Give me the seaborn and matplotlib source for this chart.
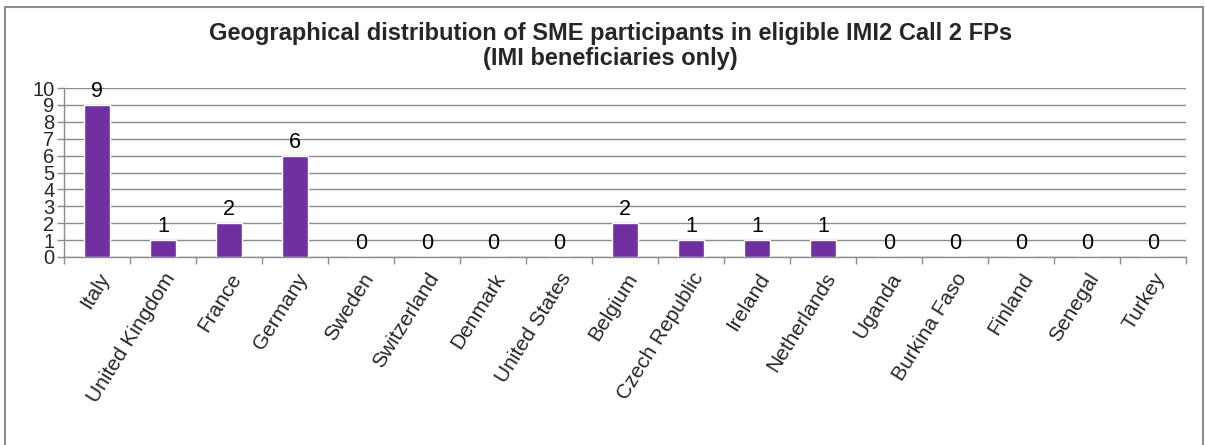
import numpy as np
import pandas as pd
import matplotlib
matplotlib.use("Agg")
import matplotlib.pyplot as plt
import seaborn as sns

countries = ["Italy", "United Kingdom", "France", "Germany", "Sweden", "Switzerland",
             "Denmark", "United States", "Belgium", "Czech Republic", "Ireland",
             "Netherlands", "Uganda", "Burkina Faso", "Finland", "Senegal", "Turkey"]
participants = [9, 1, 2, 6, 0, 0, 0, 0, 2, 1, 1, 1, 0, 0, 0, 0, 0]

title = "Geographical distribution of SME participants in eligible IMI2 Call 2 FPs\n(IMI beneficiaries only)"

sns.set_theme(style="white")
plt.rcParams['font.family'] = ['Liberation Sans', 'DejaVu Sans']

df = pd.DataFrame({"country": countries, "n": participants})

W, H = 1206, 445
fig = plt.figure(figsize=(W / 100, H / 100), dpi=100)
ax = fig.add_axes([64 / W, 1 - 257 / H, (1186 - 64) / W, (257 - 88) / H])

sns.barplot(data=df, x="country", y="n", color="#7030A0", width=0.38,
            saturation=1, ax=ax, zorder=3)

ax.set_ylim(0, 10)
ax.set_xlim(-0.5, len(countries) - 0.5)
ax.set_yticks(range(0, 11))
ax.set_yticklabels([str(i) for i in range(0, 11)], fontsize=14.5)
ax.yaxis.grid(True, color="#8c8c8c", linewidth=1, zorder=0)
ax.set_xlabel("")
ax.set_ylabel("")

# category-boundary ticks on the x axis
ax.set_xticks(np.arange(-0.5, len(countries)), minor=True)
ax.set_xticks(range(len(countries)))
ax.set_xticklabels(countries, rotation=58, ha="right", rotation_mode="anchor", fontsize=15)
ax.tick_params(axis="x", which="major", length=0, pad=9)
ax.tick_params(axis="x", which="minor", length=5, color="#8c8c8c", bottom=True, width=1)
ax.tick_params(axis="y", length=5, color="#8c8c8c", left=True, width=1, pad=2)

for s in ["top", "right"]:
    ax.spines[s].set_visible(False)
for s in ["left", "bottom"]:
    ax.spines[s].set_color("#8c8c8c")
    ax.spines[s].set_linewidth(1)

for i, v in enumerate(participants):
    ax.annotate(str(v), (i, v), xytext=(0, 2), textcoords="offset points",
                ha="center", va="bottom", fontsize=15.5, color="black")

fig.text(0.506, 1 - 46 / H, title, ha="center", va="center", fontsize=17,
         fontweight="bold", linespacing=1.15)

# outer chart border
fig.patches.append(plt.Rectangle((5 / W, -0.01), (1203 - 5) / W, 1 - 7 / H + 0.01,
                                 transform=fig.transFigure, fill=False,
                                 edgecolor="#8c8c8c", linewidth=1.5))

fig.savefig("out.png", dpi=100)
